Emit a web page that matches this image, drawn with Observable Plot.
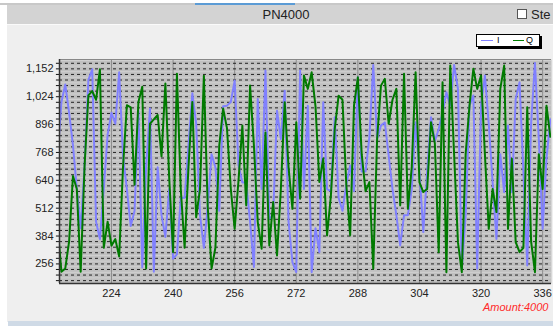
<!DOCTYPE html>
<html><head><meta charset="utf-8">
<script src="https://cdn.jsdelivr.net/npm/d3@7"></script>
<script src="https://cdn.jsdelivr.net/npm/@observablehq/plot@0.6"></script>
<style>
html,body{margin:0;padding:0;background:#fff;}
#wrap{position:relative;width:553px;height:326px;overflow:hidden;font-family:"Liberation Sans",Arial,sans-serif;}
#panel{position:absolute;left:7px;top:5px;width:560px;height:317px;background:#efefef;}
#tabs{position:absolute;left:0;top:3px;width:553px;height:2px;background:#c8c8c8;}
#tabsel{position:absolute;left:195px;top:3px;width:100px;height:2px;background:#5b9bd5;}
#titlebar{position:absolute;left:7px;top:5px;width:560px;height:19px;background:#d3d3d3;border-bottom:1px solid #fafafa;}
#title{position:absolute;left:0;width:572px;top:7px;text-align:center;font-size:13px;color:#222;}
#chk{position:absolute;left:517px;top:9px;width:8px;height:8px;border:1px solid #555;background:#fff;}
#ste{position:absolute;left:531px;top:7px;font-size:13px;color:#222;white-space:nowrap;}
#legend{position:absolute;left:476px;top:34px;width:62px;height:11px;border:1px solid #000;background:#fff;box-shadow:2px 2px 0 #000;font-size:9px;line-height:11px;}
.sw{position:absolute;top:5px;height:1px;}
#amount{position:absolute;left:483px;top:301px;font-size:11px;font-style:italic;color:#ff2a2a;}
#bottom{position:absolute;left:8px;top:321px;width:560px;height:5px;background:#cfdae6;}
#plot{position:absolute;left:0;top:45px;}
</style></head>
<body>
<div id="wrap">
  <div id="panel"></div>
  <div id="tabs"></div><div id="tabsel"></div>
  <div id="titlebar"></div>
  <div id="title">PN4000</div>
  <div id="chk"></div><div id="ste">Ste</div>
  <div id="plot"></div>
  <div id="legend">
    <div class="sw" style="left:4px;width:12px;background:#8080ff;"></div>
    <span style="position:absolute;left:20px;top:0;">I</span>
    <div class="sw" style="left:36px;width:11px;background:#008000;"></div>
    <span style="position:absolute;left:49px;top:0;">Q</span>
  </div>
  <div id="amount">Amount:4000</div>
  <div id="bottom"></div>
</div>
<script>
const xStart = 210;
const seriesI = [750,1000,1080,950,800,600,420,700,1100,1150,450,370,600,850,950,900,1136,750,600,430,
500,960,240,700,970,220,700,480,380,600,280,300,560,560,800,1040,900,480,330,520,
760,700,500,980,983,1000,1098,708,630,630,450,242,1014,600,1144,463,480,960,830,1052,
450,264,218,1144,600,983,218,420,310,999,600,590,930,560,500,620,708,590,1113,680,
680,840,1170,830,892,906,754,600,480,341,480,480,600,907,680,402,680,930,820,876,
950,1045,983,1170,1060,234,480,983,1030,234,983,1121,900,632,371,760,586,892,586,1014,
1090,680,249,900,1179,830,417,740,920];
const seriesQ = [430,220,235,360,660,600,220,700,1030,1050,1010,1150,330,450,340,370,290,700,985,975,
620,1000,1070,235,900,920,940,750,1085,650,310,1130,600,330,700,1000,470,600,1120,520,
235,330,800,970,880,600,417,640,892,525,1075,800,448,326,860,341,540,295,600,999,
700,509,907,555,1121,1060,1136,980,632,740,387,570,876,1029,1010,620,387,983,1113,760,
590,632,234,830,1075,1106,900,1010,1060,525,1129,509,700,1136,630,586,600,907,810,310,
1090,218,1167,760,356,218,760,983,1152,1060,1121,760,417,600,494,1060,1167,417,739,356,
310,330,976,360,218,760,600,983,840];
const xTicks = [224,240,256,272,288,304,320,336];
const yTicks = [256,384,512,640,768,896,1024,1152];

const dataI = seriesI.map((v,i)=>({x:xStart+i,y:v}));
const dataQ = seriesQ.map((v,i)=>({x:xStart+i,y:v}));
const yStep = (yTicks[1]-yTicks[0])/5;
const yMinor = d3.range(yTicks[0]-3*yStep, 1195, yStep);
const xMin = 210.5, xMax = 338.3;

const chart = Plot.plot({
  width: 553, height: 260,
  marginLeft: 59, marginRight: 2, marginTop: 14, marginBottom: 22,
  style: {background: "transparent", fontFamily: "'Liberation Sans', Arial, sans-serif", fontSize: "11px", color: "#222"},
  x: {domain: [xMin, xMax], ticks: xTicks, tickFormat: d=>d, tickSize: 0, tickPadding: 6, label: null},
  y: {domain: [166, 1195], ticks: yTicks, tickFormat: d3.format(","), tickSize: 0, tickPadding: 6, label: null},
  marks: [
    Plot.frame({fill: "#c0c0c0", stroke: null}),
    Plot.ruleY(yMinor.map(v=>v+yStep/2), {stroke: "#d0d0d0", strokeWidth: 1}),
    Plot.gridX(xTicks, {stroke: "#8c8c8c", strokeOpacity: 1, strokeWidth: 1}),
    Plot.ruleY(yMinor, {stroke: "#222", strokeWidth: 1, strokeDasharray: "3,3"}),
    Plot.ruleY(yMinor, {x1: xMin - 0.8, x2: xMin, stroke: "#111", strokeWidth: 1}),
    Plot.line(dataI, {x: "x", y: "y", stroke: "#8080ff", strokeWidth: 2, clip: true}),
    Plot.line(dataQ, {x: "x", y: "y", stroke: "#007a00", strokeWidth: 2, clip: true}),
    Plot.ruleY([166], {stroke: "#333", strokeWidth: 1.5}),
    Plot.ruleY([1195], {stroke: "#888", strokeWidth: 1}),
    Plot.ruleX([xMin], {stroke: "#333", strokeWidth: 1.5})
  ]
});
document.getElementById("plot").appendChild(chart);
</script>
</body></html>
